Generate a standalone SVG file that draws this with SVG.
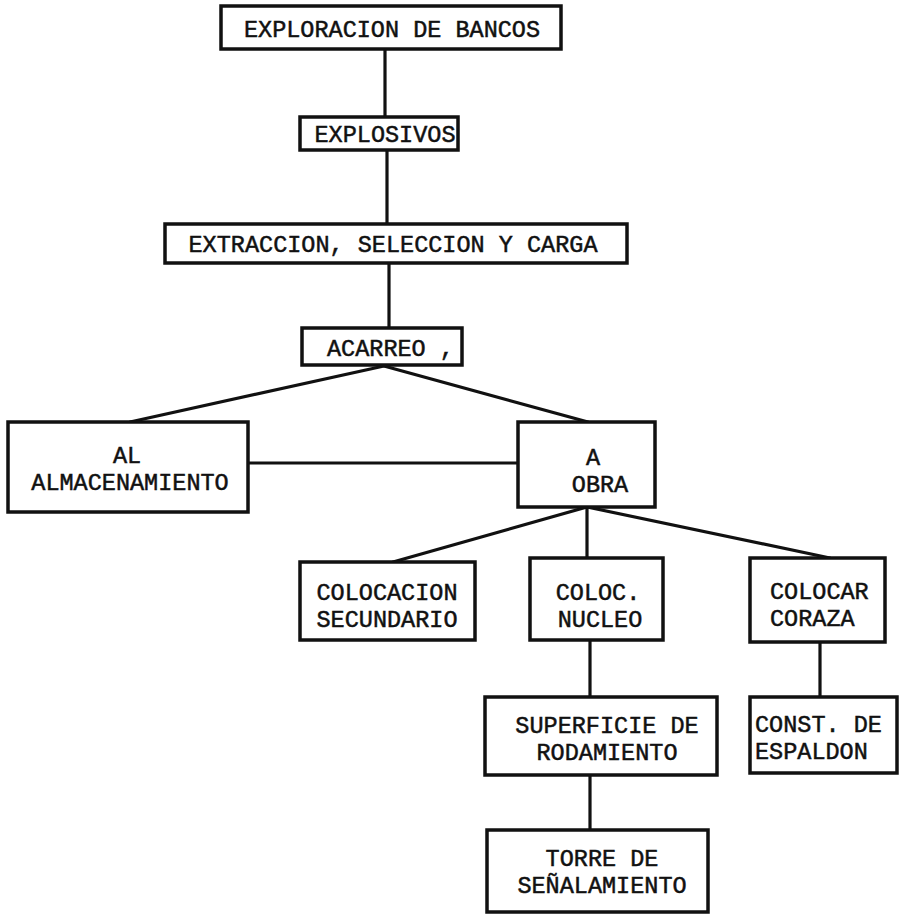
<svg xmlns="http://www.w3.org/2000/svg" width="904" height="915" viewBox="0 0 904 915">
<style>
.box{fill:#fff;stroke:#111;stroke-width:3.5}
.ln{fill:none;stroke:#111;stroke-width:3.2;stroke-linecap:round}
text{font-family:"Liberation Mono","DejaVu Sans Mono",monospace;font-size:23.5px;fill:#111;stroke:#111;stroke-width:0.5}
.c{text-anchor:middle}
</style>
<rect width="904" height="915" fill="#fff"/>
<g id="connectors">
<line class="ln" x1="385" y1="49" x2="385" y2="117"/>
<line class="ln" x1="387" y1="150" x2="387" y2="224"/>
<line class="ln" x1="389" y1="263" x2="389" y2="328"/>
<line class="ln" x1="384" y1="366" x2="130" y2="422"/>
<line class="ln" x1="384" y1="366" x2="588" y2="422"/>
<line class="ln" x1="248" y1="463" x2="518" y2="463"/>
<line class="ln" x1="587" y1="507" x2="393" y2="562"/>
<line class="ln" x1="587" y1="507" x2="587" y2="558"/>
<line class="ln" x1="587" y1="507" x2="830" y2="558"/>
<line class="ln" x1="590" y1="640" x2="590" y2="697"/>
<line class="ln" x1="820" y1="642" x2="820" y2="697"/>
<line class="ln" x1="590" y1="775" x2="590" y2="830"/>
</g>
<g id="n1"><rect class="box" x="221" y="6" width="340" height="43"/><text x="392" y="37" class="c">EXPLORACION DE BANCOS</text></g>
<g id="n2"><rect class="box" x="300" y="117" width="158" height="33"/><text x="385" y="142" class="c">EXPLOSIVOS</text></g>
<g id="n3"><rect class="box" x="165" y="224" width="462" height="39"/><text x="393" y="252" class="c">EXTRACCION, SELECCION Y CARGA</text></g>
<g id="n4"><rect class="box" x="302" y="328" width="160" height="37"/><text x="327" y="356">ACARREO ,</text></g>
<g id="n5"><rect class="box" x="8" y="422" width="240" height="90"/><text x="127" y="463" class="c">AL</text><text x="130" y="490" class="c">ALMACENAMIENTO</text></g>
<g id="n6"><rect class="box" x="518" y="422" width="137" height="85"/><text x="593" y="465" class="c">A</text><text x="600" y="492" class="c">OBRA</text></g>
<g id="n7"><rect class="box" x="300" y="562" width="175" height="78"/><text x="387" y="600" class="c">COLOCACION</text><text x="387" y="627" class="c">SECUNDARIO</text></g>
<g id="n8"><rect class="box" x="530" y="558" width="133" height="82"/><text x="598" y="600" class="c">COLOC.</text><text x="600" y="627" class="c">NUCLEO</text></g>
<g id="n9"><rect class="box" x="750" y="558" width="135" height="84"/><text x="770" y="599">COLOCAR</text><text x="770" y="626">CORAZA</text></g>
<g id="n10"><rect class="box" x="485" y="697" width="232" height="78"/><text x="607" y="733" class="c">SUPERFICIE DE</text><text x="607" y="760" class="c">RODAMIENTO</text></g>
<g id="n11"><rect class="box" x="750" y="697" width="147" height="76"/><text x="755" y="732">CONST. DE</text><text x="755" y="759">ESPALDON</text></g>
<g id="n12"><rect class="box" x="487" y="830" width="221" height="82"/><text x="602" y="866" class="c">TORRE DE</text><text x="602" y="893" class="c">SEÑALAMIENTO</text></g>
</svg>
